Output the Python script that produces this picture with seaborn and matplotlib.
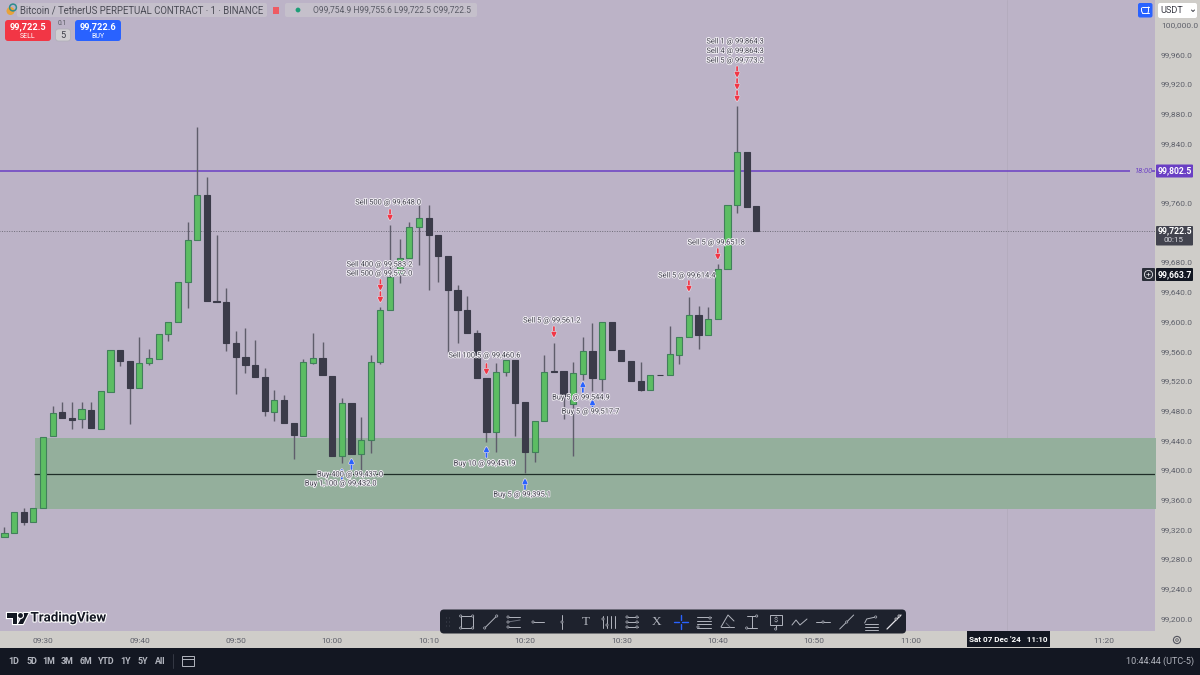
import matplotlib
matplotlib.use("Agg")
import matplotlib.pyplot as plt
import matplotlib.patheffects as pe
from matplotlib.patches import FancyBboxPatch, Rectangle, Circle, Polygon
import numpy as np
import pandas as pd
import seaborn as sns

# ---------- data (minutes after 09:30, 1-minute candles) ----------
minutes = list(range(-4, 75))
opens = [99310.2,99315.6,99343.8,99329.6,99349.2,99445.4,99478.1,99469.6,99468.3,99481.2,99455.6,99505.5,99561.2,99546.8,99510.4,99544.1,99549.9,99582.8,99598.9,99652.8,99709.4,99770.0,99627.2,99626.3,99570.6,99551.8,99541.0,99525.3,99478.5,99494.7,99463.7,99446.2,99544.5,99550.4,99526.6,99419.3,99490.6,99421.6,99440.8,99545.9,99615.1,99665.7,99685.1,99727.7,99739.0,99716.9,99687.8,99642.4,99615.9,99584.9,99523.5,99450.8,99531.6,99547.8,99491.0,99424.7,99466.0,99533.7,99533.7,99488.9,99529.7,99560.7,99523.0,99599.3,99562.0,99546.4,99519.5,99507.7,99528.6,99528.0,99555.3,99579.1,99608.4,99581.4,99603.4,99671.1,99756.5,99827.9,99754.9]
highs = [99323.2,99343.8,99349.2,99349.2,99444.9,99486.6,99491.2,99491.6,99491.6,99491.6,99506.0,99561.2,99561.2,99546.8,99579.5,99563.4,99583.2,99599.3,99652.8,99734.0,99862.4,99794.2,99716.5,99645.5,99587.6,99591.2,99575.1,99537.8,99507.7,99500.6,99463.7,99549.5,99584.9,99572.4,99526.6,99496.6,99490.6,99471.8,99554.9,99619.1,99730.0,99710.7,99733.6,99756.9,99756.9,99716.9,99687.8,99649.2,99634.3,99588.6,99523.5,99544.1,99548.2,99547.8,99491.0,99466.0,99554.9,99571.5,99533.7,99545.9,99579.5,99598.4,99599.3,99599.3,99562.0,99546.4,99546.1,99528.6,99528.6,99593.9,99579.1,99633.4,99621.3,99619.1,99677.0,99756.5,99890.2,99827.9,99755.6]
lows = [99310.2,99315.6,99325.5,99329.6,99349.2,99445.4,99469.6,99454.8,99457.0,99456.2,99455.6,99505.5,99540.1,99462.0,99510.4,99541.4,99549.9,99574.2,99598.9,99618.6,99709.4,99627.2,99626.3,99560.7,99502.0,99530.2,99525.3,99473.1,99466.0,99463.7,99414.4,99446.2,99542.8,99527.5,99419.3,99409.0,99421.6,99400.0,99422.5,99542.8,99615.1,99652.3,99685.1,99676.1,99642.4,99652.8,99557.2,99570.6,99584.9,99523.5,99438.1,99424.7,99527.0,99445.8,99395.6,99411.2,99466.0,99532.4,99468.7,99419.3,99521.2,99506.8,99506.8,99562.0,99546.4,99519.5,99506.0,99507.7,99528.0,99528.0,99542.4,99579.1,99562.6,99581.4,99603.4,99671.1,99746.5,99754.6,99722.5]
closes = [99315.6,99343.8,99330.0,99349.2,99444.9,99476.8,99469.6,99467.8,99481.8,99456.2,99506.0,99561.2,99546.8,99510.9,99544.5,99550.4,99583.2,99599.3,99652.8,99709.4,99770.0,99627.2,99626.3,99570.6,99551.8,99541.0,99525.3,99479.9,99494.7,99463.7,99446.7,99545.1,99550.8,99527.5,99419.3,99490.6,99421.6,99440.8,99545.9,99615.1,99659.9,99685.1,99727.7,99739.0,99716.9,99687.8,99642.4,99615.9,99584.9,99523.5,99450.8,99531.6,99548.2,99490.6,99424.7,99466.0,99531.6,99532.4,99500.1,99530.6,99560.7,99523.5,99599.3,99562.0,99546.4,99519.5,99508.2,99528.6,99528.0,99555.8,99579.1,99608.4,99581.8,99603.4,99671.1,99756.5,99827.9,99754.6,99722.5]

time_ticks = [0, 10, 20, 30, 40, 50, 60, 70, 80, 90, 100, 110]
time_labels = ["09:30","09:40","09:50","10:00","10:10","10:20","10:30","10:40","10:50","11:00","","11:20"]
price_ticks = [99200,99240,99280,99320,99360,99400,99440,99480,99520,99560,99600,99640,99680,99760,99840,99880,99920,99960,100000]
price_labels = ["99,200.0","99,240.0","99,280.0","99,320.0","99,360.0","99,400.0","99,440.0","99,480.0","99,520.0","99,560.0","99,600.0","99,640.0","99,680.0","99,760.0","99,840.0","99,880.0","99,920.0","99,960.0","100,000.0"]

session_level = 99802.5
last_price = 99722.5
zone_top = 99443.1
zone_bottom = 99347.0
zone_mid = 99395.3

sell_labels = ["Sell 500 @ 99,648.0","Sell 400 @ 99,583.2","Sell 500 @ 99,572.0","Sell 100.5 @ 99,460.6","Sell 5 @ 99,561.2","Sell 5 @ 99,614.4","Sell 5 @ 99,651.8","Sell 1 @ 99,864.3","Sell 4 @ 99,864.3","Sell 5 @ 99,773.2"]
sell_minutes = [36,35,35,46,53,67,70,72,72,72]
sell_anchor = [99735.4,99641.1,99624.9,99528.0,99577.8,99639.7,99682.8,99928.0,99911.8,99895.6]
buy_labels = ["Buy 5 @ 99,544.9","Buy 5 @ 99,517.7","Buy 5 @ 99,395.1","Buy 10 @ 99,451.9","Buy 400 @ 99,437.0","Buy 1,100 @ 99,432.0"]
buy_minutes = [56,57,50,46,31,32]
buy_anchor = [99519.9,99495.6,99389.2,99432.3,99402.7,99416.2]

# ---------- layout / style ----------
BG = "#BCB3C7"; AXIS_BG = "#CFCDC9"; DARK = "#131722"
GREEN = "#5CBD63"; GREEN_EDGE = "#41805A"; BLACK_BODY = "#3B3B49"; WICK = "#5F5D6B"
PURPLE = "#6A3FC4"; RED = "#F23645"; BLUE = "#2962FF"
W, H = 1200, 675
PLOT_W, PLOT_H = 1155, 631
PX = 0.72  # points per pixel at dpi 100

sns.set_theme(style="white")
plt.rcParams["font.family"] = ["Roboto", "DejaVu Sans"]

fig = plt.figure(figsize=(12, 6.75), dpi=100, facecolor=AXIS_BG)
ax = fig.add_axes([0, (H - PLOT_H) / H, PLOT_W / W, PLOT_H / H], facecolor=BG, zorder=1)

df = pd.DataFrame({"t": minutes, "o": opens, "h": highs, "l": lows, "c": closes})
df["base"] = df[["o", "c"]].min(axis=1)
df["body"] = (df["c"] - df["o"]).abs()
df["up"] = df["c"] > df["o"]

ax.fill_between([-0.83, 116], zone_bottom, zone_top, color="#94AF9C", lw=0, zorder=0.5)
ax.hlines(zone_mid, -0.95, 116, color="#1F2E28", lw=0.9, zorder=0.8)
ax.hlines(session_level, -5, 112.8, color=PURPLE, lw=1.1, zorder=0.9)
ax.hlines(session_level, 115, 116, color=PURPLE, lw=1.1, zorder=0.9)
ax.hlines(last_price, -5, 116, color="#6E6C78", lw=0.7, linestyles=(0, (1, 1.5)), zorder=0.9)
ax.axvline(100, color="#B3ABBD", lw=0.6, zorder=0.4)

ax.vlines(df["t"], df["l"], df["h"], color=WICK, lw=1.0, zorder=1.5)
for up, color, edge in [(True, GREEN, GREEN_EDGE), (False, BLACK_BODY, BLACK_BODY)]:
    sub = df[df["up"] == up]
    sns.barplot(data=sub, x="t", y="body", bottom=sub["base"].values, native_scale=True,
                errorbar=None, width=0.64, color=color, edgecolor=edge, linewidth=0.8,
                saturation=1, ax=ax, zorder=2)

ax.set_xlim(-4.46, 115.35)
ax.set_ylim(99183.2, 100033.0)
ax.set_xlabel(""); ax.set_ylabel("")
ax.yaxis.tick_right()
ax.set_yticks(price_ticks, price_labels)
ax.set_xticks(time_ticks, time_labels)
ax.tick_params(axis="both", length=0, labelsize=6.0, colors="#5E606A")
ax.tick_params(axis="y", pad=4.2)
ax.tick_params(axis="x", pad=4.8)
for s in ax.spines.values():
    s.set_visible(False)

ax.text(1143 / PLOT_W, 1 - 171 / PLOT_H, "18:00", transform=ax.transAxes, color=PURPLE,
        fontsize=5.4, style="italic", ha="center", va="center", zorder=3)

# trades
halo = [pe.withStroke(linewidth=1.3, foreground="#F0EDF3")]
sell_dy = [18, 26, 29, 19, 17, 16, 17, 36, 38.5, 41]
sell_dx = [-2, -1, -1, -2, -2, -2, -1.5, -2, -2, -2]
buy_dy = [-17, -13, -17, -18, -7, -26]
buy_dx = [-2, -2, -3, -2, 8, -11]

def trade(t, price, label, dx, dy, color, sign):
    ax.annotate("", xy=(t, price), xytext=(0, sign * 11 * PX), textcoords="offset points",
                arrowprops=dict(arrowstyle="-|>,head_width=0.2,head_length=0.42", color=color, lw=1.2,
                                shrinkA=0, shrinkB=0, mutation_scale=6,
                                path_effects=[pe.withStroke(linewidth=2.2, foreground="#DDD3E0")]),
                zorder=4)
    ax.annotate(label, xy=(t, price), xytext=(dx * PX, dy * PX), textcoords="offset points",
                ha="center", va="center", fontsize=5.4, color="#44444F", path_effects=halo, zorder=5)

for i, lab in enumerate(sell_labels):
    trade(sell_minutes[i], sell_anchor[i], lab, sell_dx[i], sell_dy[i], RED, 1)
for i, lab in enumerate(buy_labels):
    trade(buy_minutes[i], buy_anchor[i], lab, buy_dx[i], buy_dy[i], BLUE, -1)

# ---------- interface overlay in pixel coordinates ----------
ui = fig.add_axes([0, 0, 1, 1], zorder=10)
ui.set_xlim(0, W); ui.set_ylim(H, 0); ui.axis("off"); ui.patch.set_alpha(0)

def box(x, y, w, h, color, r=0, ec="none", lw=0, z=1):
    if r:
        p = FancyBboxPatch((x + r, y + r), w - 2 * r, h - 2 * r, boxstyle=f"round,pad={r}",
                           fc=color, ec=ec, lw=lw, zorder=z)
    else:
        p = Rectangle((x, y), w, h, fc=color, ec=ec, lw=lw, zorder=z)
    ui.add_patch(p)

def txt(x, y, s, size=6, color="#fff", ha="center", weight="normal", **k):
    ui.text(x, y, s, fontsize=size, color=color, ha=ha, va="center", weight=weight, zorder=5, **k)

# header
box(17, 3, 250, 14, "#C5C0CB", 2)
box(285, 3, 192, 14, "#C5C0CB", 2)
ui.add_patch(Circle((10.5, 11), 4, fc="#E8A33A", ec="none", zorder=3))
ui.add_patch(Circle((13, 7.5), 3.4, fc="none", ec="#2E8C8C", lw=1.1, zorder=3))
txt(19.5, 10.2, "Bitcoin / TetherUS PERPETUAL CONTRACT · 1 · BINANCE", 6.95, "#4B4C56", "left")
box(273, 7, 6, 7, "#EE5A63")
ui.add_patch(Circle((298, 10), 2.4, fc="#1E9E78", ec="none", zorder=3))
txt(313, 10.2, "O99,754.9 H99,755.6 L99,722.5 C99,722.5", 6.15, "#5A5B66", "left")

box(5, 20, 46, 21, RED, 3)
txt(28, 26.5, "99,722.5", 6.6, weight="bold")
txt(28, 36, "SELL", 5)
txt(62.5, 23.5, "0.1", 4.8, "#55565F")
box(55.5, 29, 15, 12, "#D0CED2", 3, ec="#AFAEB6", lw=0.5)
txt(63, 35, "5", 6.6, "#3D3E48")
box(75, 20, 46, 21, BLUE, 3)
txt(98, 26.5, "99,722.6", 6.6, weight="bold")
txt(98, 36, "BUY", 5)

# top right buttons
box(1138, 3, 14.5, 14.5, BLUE, 2)
ui.plot([1142, 1148.5], [7, 7], color="white", lw=0.7, zorder=3)
ui.plot([1141.5, 1141.5, 1142.5], [8, 11, 13], color="white", lw=0.7, zorder=3)
ui.plot([1148.5, 1148.5, 1148], [7, 11, 13], color="white", lw=0.7, zorder=3)
ui.plot([1142, 1148.5], [13.2, 13.2], color="white", lw=0.7, zorder=3)
box(1158, 3, 39, 15, "white", 2)
txt(1160, 10.5, "USDT", 6.6, "#3A3B45", "left")
ui.plot([1191.5, 1193, 1194.5], [10, 11.5, 10], color="#3A3B45", lw=0.7, zorder=3)

# price badges
box(1156, 164.5, 37, 13, PURPLE, 1)
txt(1174.5, 171, "99,802.5", 6.2, weight="bold")
box(1156, 226, 37, 19.5, "#42434E", 1)
txt(1174.5, 230.5, "99,722.5", 6.2, weight="bold")
txt(1174, 239.5, "00:15", 5.8, "#D8D8DE")
box(1156, 268, 37, 13, DARK, 1)
txt(1174.5, 274.5, "99,663.7", 6.2, weight="bold")
box(1142, 268, 13, 13, "#2A2E39", 1)
ui.add_patch(Circle((1148.5, 274.5), 4.1, fc="none", ec="#E6E6EA", lw=0.6, zorder=3))
txt(1148.5, 274.2, "+", 6, "#E6E6EA")

# logo
logo = [pe.withStroke(linewidth=1.6, foreground="white")]
for pts in ([(7, 613), (17, 613), (17, 624), (13, 624), (13, 618), (7, 618)],
            [(24, 613), (28.5, 613), (23, 624), (18, 624)]):
    p = Polygon(pts, fc="#131722", ec="none", zorder=4, path_effects=logo)
    ui.add_patch(p)
ui.add_patch(Circle((20.5, 615.5), 2.4, fc="#131722", ec="none", zorder=4, path_effects=logo))
ui.text(30.5, 618, "TradingView", fontsize=9.6, weight="bold", color="#131722", va="center",
        ha="left", zorder=5, path_effects=[pe.withStroke(linewidth=1.6, foreground="white")])

# bottom bar
box(0, 648, W, 27, DARK)
for x, s in zip([14, 31.5, 49, 67, 86, 106, 126, 143, 160.5], ["1D","5D","1M","3M","6M","YTD","1Y","5Y","All"]):
    txt(x, 661, s, 6.4, "#B2B5BE", weight="bold")
ui.plot([172.5, 172.5], [654, 668], color="#3A3E4A", lw=0.6, zorder=3)
box(181.5, 656, 12, 10, "none", ec="#B2B5BE", lw=0.7, z=3)
ui.plot([181.5, 193.5], [659, 659], color="#B2B5BE", lw=0.7, zorder=3)
txt(1194, 661, "10:44:44 (UTC-5)", 6.6, "#B2B5BE", "right")

# crosshair badge and settings
box(967, 631, 83, 16, DARK)
txt(1008.5, 639.5, "Sat 07 Dec '24   11:10", 5.9, weight="bold")
ui.add_patch(Circle((1177, 640), 3.6, fc="none", ec="#55565F", lw=0.8, zorder=3))
ui.add_patch(Circle((1177, 640), 1.3, fc="none", ec="#55565F", lw=0.6, zorder=3))

# drawing toolbar
box(440, 609.5, 466, 24, "#1E222D", 4)
IC = "#B2B5BE"
def L(xs, ys, c=IC, lw=0.7):
    ui.plot(xs, ys, color=c, lw=lw, zorder=6, solid_capstyle="round")
def D(x, y, c=IC, r=1.1):
    ui.add_patch(Circle((x, y), r, fc="#1E222D", ec=c, lw=0.5, zorder=7))
for yy in (618, 622, 626):
    for xx in (446.5, 449.5):
        ui.add_patch(Circle((xx, yy), 0.5, fc="#4A4E5A", ec="none", zorder=6))
c = 466.7
L([c-6, c+6, c+6, c-6, c-6], [616, 616, 628, 628, 616])
for a, b in [(c-6,616),(c+6,616),(c+6,628),(c-6,628)]: D(a, b)
c = 490.7; L([c-6, c+6], [628, 616]); D(c-6, 628); D(c+6, 616)
c = 514; L([c-6, c+6], [617, 617]); L([c-6, c+6], [622, 620], "#6A6E7A"); L([c-6, c+6], [627, 627]); D(c-6, 617); D(c-6, 622); D(c-6, 627)
c = 538; L([c-6, c+6], [622, 622]); D(c-5, 622)
c = 562; L([c, c], [615, 629]); D(c, 622)
c = 585.7; txt(c, 622, "T", 9.5, IC, family="Liberation Serif")
c = 609
for i, xx in enumerate([c-6, c-2, c+2, c+6]):
    L([xx, xx], [616, 628])
D(c-6, 619); D(c-2, 625)
c = 632
for yy in (617, 622, 627):
    L([c-6, c+6], [yy, yy]); D(c-5, yy); D(c+5, yy)
c = 656.7; txt(c, 622, "X", 9.5, IC, family="Liberation Serif")
c = 680.7; L([c-7, c-1.5], [622, 622], "#2962FF", 1); L([c+1.5, c+7], [622, 622], "#2962FF", 1); L([c, c], [615, 620], "#2962FF", 1); L([c, c], [624, 629], "#2962FF", 1)
c = 704
for yy in (617, 620.5, 624, 627.5):
    L([c-7, c+7], [yy, yy])
D(c+6, 618); D(c-6, 627)
c = 728
L([c-7, c, c+6], [627, 615, 621]); L([c-7, c+6], [627, 627]); L([c-2, c+2], [623, 627], "#6A6E7A")
c = 751.7; L([c, c], [616, 628]); L([c-5, c+5], [616, 616]); L([c-5, c+5], [628, 628]); D(c+5, 616); D(c-5, 628)
c = 775.7; box(c-6, 615, 12, 10, "none", ec=IC, lw=0.7, z=6); txt(c, 620, "$", 5.5, IC); L([c, c], [625, 629]); D(c, 629)
c = 800; L([c-8, c-4, c, c+7], [625, 620, 625, 619])
c = 823; L([c-7, c+7], [622, 622]); D(c, 622)
c = 846.7; L([c-7, c+7], [629, 615]); D(c, 622)
c = 870.7; L([c-6, c-4, c+5], [623, 619, 617]); D(c+5, 617)
for yy in (624, 627, 630):
    L([c-6, c+7], [yy, yy])
c = 894; L([c-7, c+7], [629, 615], "#E6E6EA", 0.9); D(c+2, 619, "#E6E6EA"); D(c+5, 616, "#E6E6EA")

fig.savefig("out.png", dpi=100, facecolor=fig.get_facecolor())
